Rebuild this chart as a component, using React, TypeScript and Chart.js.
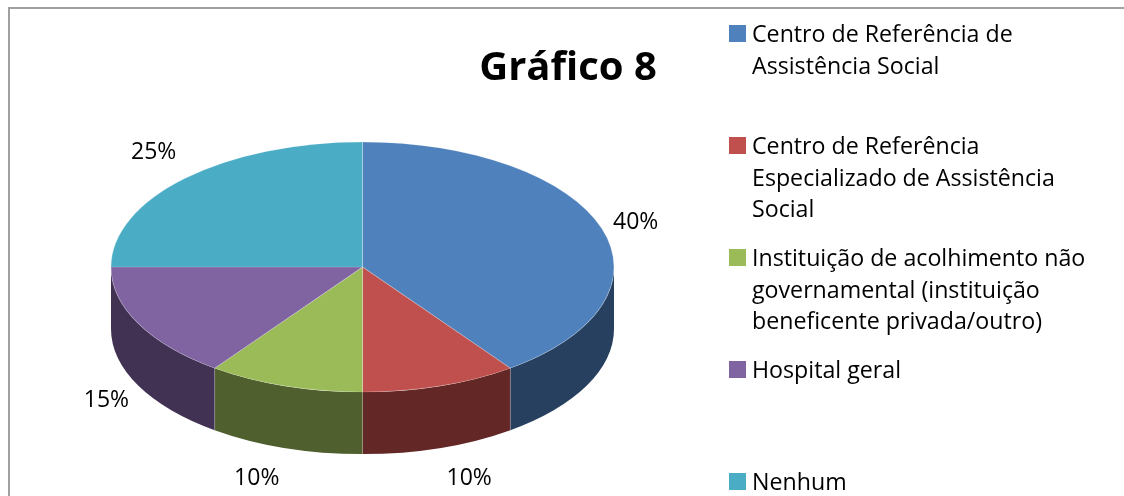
import React, { useEffect, useRef } from "react";
import { Chart, registerables } from "chart.js";

Chart.register(...registerables);

const titleText = "Gráfico 8";
const categories: string[][] = [
  ["Centro de Referência de", "Assistência Social"],
  ["Centro de Referência", "Especializado de Assistência", "Social"],
  ["Instituição de acolhimento não", "governamental (instituição", "beneficente privada/outro)"],
  ["Hospital geral"],
  ["Nenhum"],
];
const values = [40, 10, 10, 15, 25];
const topColors = ["#4F81BD", "#C0504D", "#9BBB59", "#8064A2", "#4BACC6"];
const sideColors = ["#27405F", "#632726", "#4F5F2D", "#413253", "#26576A"];

const FONT = '"Open Sans", sans-serif';
const RX = 251.5;
const RY = 125;
const DEPTH = 62;
const labelNudges = [
  [34, -6],
  [29, 31],
  [-28, 31],
  [-32, 15],
  [-31, -26],
];

const pie3d = {
  id: "pie3d",
  beforeDraw(chart: any) {
    const { ctx } = chart;
    ctx.save();
    ctx.fillStyle = "#fff";
    ctx.fillRect(0, 0, chart.width, chart.height);
    ctx.strokeStyle = "#A0A0A0";
    ctx.lineWidth = 2;
    ctx.beginPath();
    ctx.moveTo(9, chart.height);
    ctx.lineTo(9, 8);
    ctx.lineTo(chart.width, 8);
    ctx.stroke();
    ctx.restore();
  },
  beforeDatasetDraw(chart: any, args: any) {
    const { ctx } = chart;
    const arcs = args.meta.data;
    const { x: cx, y: cy, outerRadius: R } = arcs[0];
    // walls of the cylinder, front half only
    arcs.forEach((arc: any, i: number) => {
      const a0 = Math.max(arc.startAngle, 0);
      const a1 = Math.min(arc.endAngle, Math.PI);
      if (a1 <= a0) return;
      ctx.save();
      ctx.beginPath();
      ctx.ellipse(cx, cy, RX, RY, 0, a0, a1);
      ctx.ellipse(cx, cy + DEPTH, RX, RY, 0, a1, a0, true);
      ctx.closePath();
      ctx.fillStyle = sideColors[i];
      ctx.fill();
      if (a0 > 0) {
        const sx = cx + RX * Math.cos(a0);
        const sy = cy + RY * Math.sin(a0);
        ctx.strokeStyle = "rgba(255,255,255,0.2)";
        ctx.lineWidth = 1;
        ctx.beginPath();
        ctx.moveTo(sx, sy);
        ctx.lineTo(sx, sy + DEPTH);
        ctx.stroke();
      }
      ctx.restore();
    });
    // top face: squash the library's own arcs into an ellipse
    ctx.save();
    ctx.translate(cx, cy);
    ctx.scale(RX / R, RY / R);
    ctx.translate(-cx, -cy);
  },
  afterDatasetDraw(chart: any) {
    chart.ctx.restore();
  },
  afterDraw(chart: any) {
    const { ctx } = chart;
    const arcs = chart.getDatasetMeta(0).data;
    const { x: cx, y: cy } = arcs[0];
    ctx.save();
    ctx.fillStyle = "#000";
    ctx.textBaseline = "alphabetic";
    // title
    ctx.font = `bold 40px ${FONT}`;
    ctx.textAlign = "center";
    ctx.fillText(titleText, 568, 80);
    // percentage labels
    ctx.font = `23px ${FONT}`;
    ctx.textBaseline = "middle";
    arcs.forEach((arc: any, i: number) => {
      const mid = (arc.startAngle + arc.endAngle) / 2;
      const s = Math.sin(mid);
      const x = cx + RX * Math.cos(mid) + labelNudges[i][0];
      const y = cy + RY * s + (s > 0 ? DEPTH : 0) + labelNudges[i][1];
      ctx.fillText(`${values[i]}%`, x, y);
    });
    // legend
    ctx.textAlign = "left";
    ctx.textBaseline = "alphabetic";
    ctx.font = `23.2px ${FONT}`;
    categories.forEach((lines, i) => {
      const bottom = 42 + i * 112;
      ctx.fillStyle = topColors[i];
      ctx.fillRect(729, bottom - 17, 17, 17);
      ctx.fillStyle = "#000";
      lines.forEach((line, j) => ctx.fillText(line, 752, bottom + j * 31.5));
    });
    ctx.restore();
  },
};

export default function App() {
  const ref = useRef<HTMLCanvasElement>(null);
  useEffect(() => {
    const chart = new Chart(ref.current!, {
      type: "pie",
      data: {
        labels: categories.map((l) => l.join(" ")),
        datasets: [
          {
            data: values,
            backgroundColor: topColors,
            borderColor: "rgba(255,255,255,0.25)",
            borderWidth: 1,
            clip: false,
          } as any,
        ],
      },
      options: {
        responsive: false,
        animation: false,
        layout: { padding: { left: 1, right: 400, top: 38, bottom: 0 } },
        plugins: { legend: { display: false }, tooltip: { enabled: false } },
      },
      plugins: [pie3d],
    });
    return () => chart.destroy();
  }, []);
  return (
    <canvas
      ref={ref}
      width={1124}
      height={496}
      style={{ position: "fixed", left: 0, top: 0, display: "block" }}
    />
  );
}
